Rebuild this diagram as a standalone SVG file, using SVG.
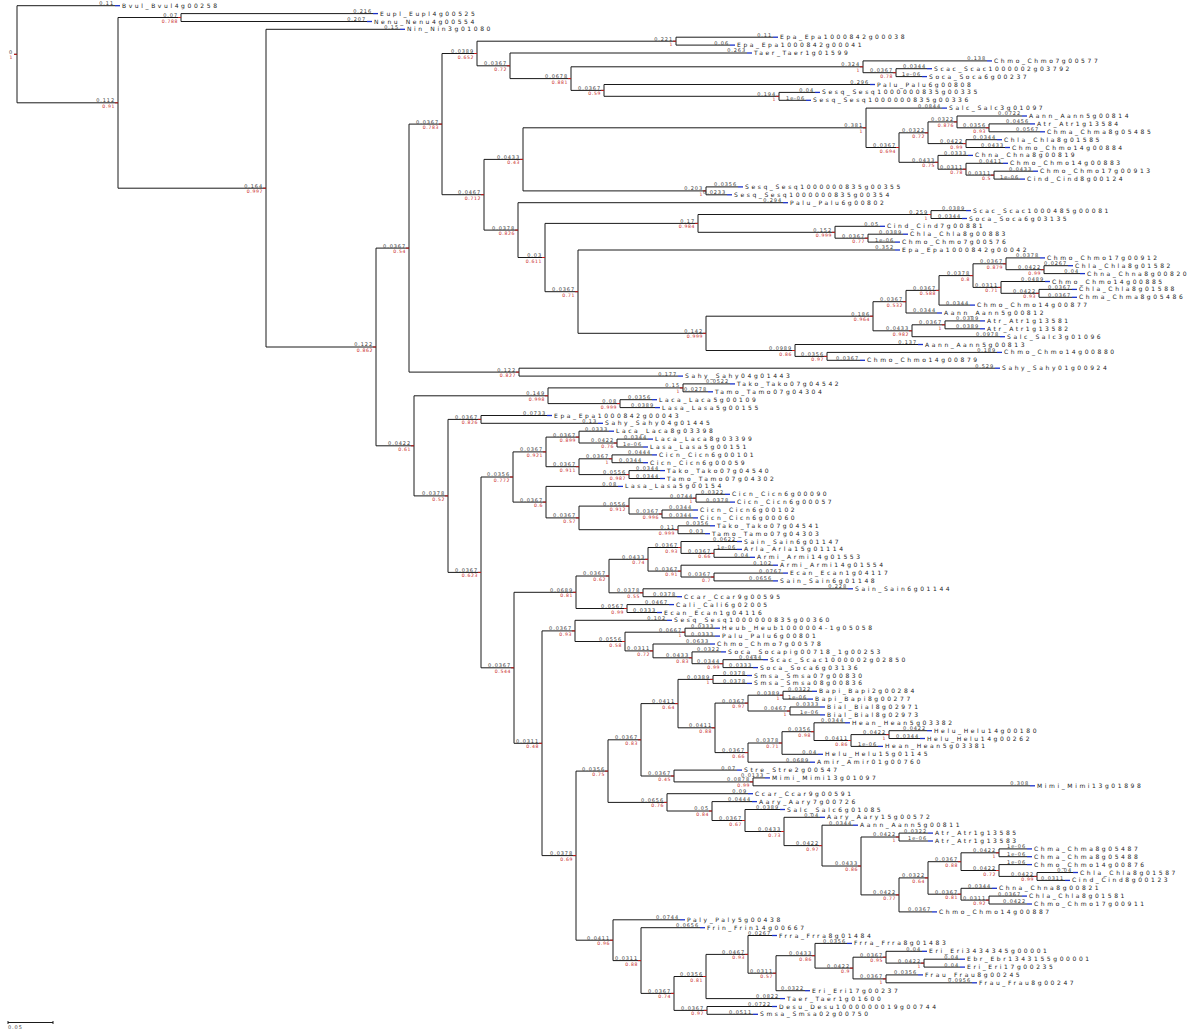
<svg xmlns="http://www.w3.org/2000/svg" width="1200" height="1032" viewBox="0 0 1200 1032">
<style>
.b{fill:none;stroke:#1a1a1a;stroke-width:1}
.tk{fill:none;stroke:#c81e1e;stroke-width:1}
.mk{fill:none;stroke:#1830c8;stroke-width:1.3}
text{font-family:"DejaVu Sans","Liberation Sans",sans-serif}
.l{font-size:5px;fill:#3a3a3a;text-anchor:end;letter-spacing:0.9px}
.s{font-size:4.6px;fill:#c81e1e;text-anchor:end;letter-spacing:0.6px}
.n{font-size:6px;fill:#1a1a1a;letter-spacing:2.6px}
</style>
<rect width="1200" height="1032" fill="#fff"/>
<g id="connectors" class="b">
<path d="M14 54.3H17M17 5.7V102.8"/>
<path d="M17 102.8H118M118 17.5V188.2"/>
<path d="M118 17.5H181M181 13.6V21.5"/>
<path d="M118 188.2H266M266 29.3V347"/>
<path d="M266 347H376M376 248.1V445.8"/>
<path d="M376 248.1H409M409 124.1V372.1"/>
<path d="M376 445.8H414M414 395.8V495.9"/>
<path d="M409 124.1H442M442 53.5V194.7"/>
<path d="M409 372.1H519M519 368.2V376.1"/>
<path d="M442 53.5H477M477 41.2V65.8"/>
<path d="M442 194.7H484M484 159.4V230.1"/>
<path d="M477 41.2H676M676 37.2V45.1"/>
<path d="M477 65.8H510M510 53V78.6"/>
<path d="M510 78.6H571M571 66.8V90.4"/>
<path d="M571 66.8H863M863 60.9V72.7"/>
<path d="M863 72.7H896M896 68.7V76.6"/>
<path d="M571 90.4H604M604 84.5V96.3"/>
<path d="M604 96.3H779M779 92.4V100.3"/>
<path d="M484 159.4H523M523 127.8V190.9"/>
<path d="M523 127.8H866M866 108.1V147.5"/>
<path d="M866 147.5H899M899 132.8V162.3"/>
<path d="M899 132.8H928M928 121.9V143.6"/>
<path d="M928 121.9H957M957 116V127.8"/>
<path d="M957 127.8H989M989 123.9V131.8"/>
<path d="M928 143.6H966M966 139.7V147.5"/>
<path d="M899 162.3H938M938 155.4V169.2"/>
<path d="M938 169.2H966M966 163.3V175.1"/>
<path d="M966 175.1H994M994 171.2V179.1"/>
<path d="M523 190.9H706M706 186.9V194.8"/>
<path d="M484 230.1H518M518 202.7V257.5"/>
<path d="M518 257.5H545M545 223.4V291.7"/>
<path d="M545 223.4H698M698 214.5V232.3"/>
<path d="M698 214.5H931M931 210.6V218.5"/>
<path d="M698 232.3H835M835 226.3V238.2"/>
<path d="M835 238.2H868M868 234.2V242.1"/>
<path d="M545 291.7H578M578 250V333.3"/>
<path d="M578 333.3H706M706 316.2V350.5"/>
<path d="M706 316.2H873M873 301.7V330.8"/>
<path d="M873 301.7H906M906 290.4V313"/>
<path d="M906 290.4H939M939 275.6V305.1"/>
<path d="M939 275.6H973M973 263.8V287.4"/>
<path d="M973 263.8H1006M1006 257.9V269.7"/>
<path d="M1006 269.7H1044M1044 265.7V273.6"/>
<path d="M973 287.4H1001M1001 281.5V293.3"/>
<path d="M1001 293.3H1039M1039 289.4V297.3"/>
<path d="M873 330.8H912M912 324.8V336.7"/>
<path d="M912 324.8H945M945 320.9V328.8"/>
<path d="M706 350.5H795M795 344.5V356.4"/>
<path d="M795 356.4H827M827 352.4V360.3"/>
<path d="M414 395.8H548M548 387.9V403.6"/>
<path d="M548 387.9H683M683 383.9V391.8"/>
<path d="M548 403.6H620M620 399.7V407.6"/>
<path d="M414 495.9H448M448 419.4V572.4"/>
<path d="M448 419.4H481M481 415.5V423.3"/>
<path d="M448 572.4H481M481 477V667.8"/>
<path d="M481 477H513M513 451.9V502.1"/>
<path d="M513 451.9H546M546 437.1V466.7"/>
<path d="M546 437.1H579M579 431.2V443"/>
<path d="M579 443H617M617 439.1V447"/>
<path d="M546 466.7H579M579 458.8V474.6"/>
<path d="M579 458.8H612M612 454.9V462.7"/>
<path d="M579 474.6H629M629 470.6V478.5"/>
<path d="M513 502.1H546M546 486.4V517.9"/>
<path d="M546 517.9H579M579 506.1V529.7"/>
<path d="M579 506.1H629M629 498.2V514"/>
<path d="M629 498.2H696M696 494.3V502.1"/>
<path d="M629 514H662M662 510V517.9"/>
<path d="M579 529.7H678M678 525.8V533.7"/>
<path d="M481 667.8H514M514 592.3V743.3"/>
<path d="M514 592.3H576M576 576V608.5"/>
<path d="M576 576H609M609 559.3V592.8"/>
<path d="M609 559.3H648M648 547.5V571.1"/>
<path d="M648 547.5H681M681 541.5V553.4"/>
<path d="M681 553.4H714M714 549.4V557.3"/>
<path d="M648 571.1H681M681 565.2V577"/>
<path d="M681 577H714M714 573.1V580.9"/>
<path d="M609 592.8H643M643 588.8V596.7"/>
<path d="M576 608.5H627M627 604.6V612.5"/>
<path d="M514 743.3H542M542 630.9V855.6"/>
<path d="M542 630.9H575M575 620.3V641.5"/>
<path d="M575 641.5H625M625 632.2V650.9"/>
<path d="M625 632.2H685M685 628.2V636.1"/>
<path d="M625 650.9H653M653 644V657.8"/>
<path d="M653 657.8H692M692 651.9V663.7"/>
<path d="M692 663.7H723M723 659.7V667.6"/>
<path d="M542 855.6H576M576 771.1V940.2"/>
<path d="M576 771.1H608M608 739.8V802.4"/>
<path d="M608 739.8H641M641 703.6V776"/>
<path d="M641 703.6H678M678 679.4V727.8"/>
<path d="M678 679.4H713M713 675.5V683.4"/>
<path d="M678 727.8H715M715 703.1V752.6"/>
<path d="M715 703.1H748M748 695.2V711"/>
<path d="M748 695.2H783M783 691.3V699.1"/>
<path d="M748 711H790M790 707V714.9"/>
<path d="M715 752.6H748M748 743V762.2"/>
<path d="M748 743H782M782 731.7V754.3"/>
<path d="M782 731.7H814M814 722.8V740.5"/>
<path d="M814 740.5H851M851 734.6V746.4"/>
<path d="M851 734.6H889M889 730.7V738.5"/>
<path d="M641 776H674M674 770.1V781.9"/>
<path d="M674 781.9H753M753 777.9V785.8"/>
<path d="M608 802.4H667M667 793.7V811"/>
<path d="M667 811H712M712 801.6V820.5"/>
<path d="M712 820.5H745M745 809.5V831.5"/>
<path d="M745 831.5H784M784 817.3V845.6"/>
<path d="M784 845.6H822M822 825.2V866"/>
<path d="M822 866H861M861 837V894.9"/>
<path d="M861 837H899M899 833.1V841"/>
<path d="M861 894.9H899M899 877.9V911.9"/>
<path d="M899 877.9H928M928 861.7V894.2"/>
<path d="M928 861.7H961M961 852.8V870.5"/>
<path d="M961 852.8H999M999 848.9V856.7"/>
<path d="M961 870.5H999M999 864.6V876.4"/>
<path d="M999 876.4H1037M1037 872.5V880.4"/>
<path d="M928 894.2H961M961 888.3V900.1"/>
<path d="M961 900.1H989M989 896.1V904"/>
<path d="M576 940.2H613M613 919.8V960.6"/>
<path d="M613 960.6H641M641 927.7V993.4"/>
<path d="M641 993.4H674M674 976.5V1010.4"/>
<path d="M674 976.5H706M706 954.4V998.6"/>
<path d="M706 954.4H748M748 935.5V973.2"/>
<path d="M748 973.2H776M776 955.7V990.7"/>
<path d="M776 955.7H815M815 943.4V968.1"/>
<path d="M815 968.1H853M853 957.2V978.9"/>
<path d="M853 957.2H886M886 951.3V963.1"/>
<path d="M886 963.1H924M924 959.2V967.1"/>
<path d="M853 978.9H886M886 974.9V982.8"/>
<path d="M674 1010.4H707M707 1006.5V1014.3"/>
<path d="M17 5.7H115M181 13.6H373M181 21.5H367M266 29.3H400M676 37.2H773M676 45.1H730M510 53H747M863 60.9H987M896 68.7H927M896 76.6H922M604 84.5H870M779 92.4H815M779 100.3H806"/>
<path d="M866 108.1H942M957 116H1022M989 123.9H1030M989 131.8H1040M966 139.7H997M966 147.5H1005M938 155.4H968M966 163.3H1003M994 171.2H1033M994 179.1H1020M706 186.9H738M706 194.8H727M518 202.7H783"/>
<path d="M931 210.6H966M931 218.5H962M835 226.3H880M868 234.2H903M868 242.1H895M578 250H895M1006 257.9H1040M1044 265.7H1068M1044 273.6H1080M1001 281.5H1045M1039 289.4H1072M1039 297.3H1072M939 305.1H970"/>
<path d="M906 313H937M945 320.9H980M945 328.8H980M912 336.7H1000M795 344.5H918M827 352.4H997M827 360.3H860M519 368.2H995M519 376.1H678M683 383.9H730M683 391.8H708M620 399.7H652M620 407.6H655"/>
<path d="M481 415.5H547M481 423.3H598M579 431.2H609M617 439.1H648M617 447H643M612 454.9H652M612 462.7H643M629 470.6H660M629 478.5H660M546 486.4H618M696 494.3H725M696 502.1H730M662 510H693M662 517.9H693"/>
<path d="M678 525.8H710M678 533.7H705M681 541.5H737M714 549.4H737M714 557.3H750M681 565.2H773M714 573.1H783M714 580.9H773M643 588.8H848M643 596.7H677M627 604.6H669M627 612.5H657M575 620.3H667"/>
<path d="M685 628.2H715M685 636.1H715M653 644H710M692 651.9H721M723 659.7H763M723 667.6H753M713 675.5H747M713 683.4H747M783 691.3H812M783 699.1H808M790 707H820M790 714.9H820M814 722.8H845"/>
<path d="M889 730.7H927M889 738.5H920M851 746.4H878M782 754.3H818M748 762.2H810M674 770.1H737M753 777.9H765M753 785.8H1030M667 793.7H748M712 801.6H752M745 809.5H780M784 817.3H820M822 825.2H853"/>
<path d="M899 833.1H928M899 841H928M999 848.9H1027M999 856.7H1027M999 864.6H1027M1037 872.5H1073M1037 880.4H1065M961 888.3H992M989 896.1H1022M989 904H1027M899 911.9H932M613 919.8H680M641 927.7H700"/>
<path d="M748 935.5H772M815 943.4H847M886 951.3H922M924 959.2H960M924 967.1H960M886 974.9H918M886 982.8H972M776 990.7H805M706 998.6H780M707 1006.5H772M707 1014.3H753"/>
</g>
<g id="internal-nodes">
<g id="n-root" transform="translate(17,54.3)"><path class="tk" d="M-3 0h3"/><text class="l" x="-4" y="-0.6">0</text><text class="s" x="-4" y="5">1</text></g>
<g id="n-A" transform="translate(118,102.8)"><path class="tk" d="M-3 0h3"/><text class="l" x="-3" y="-0.6">0.112</text><text class="s" x="-3" y="5">0.91</text></g>
<g id="n-B" transform="translate(181,17.5)"><path class="tk" d="M-3 0h3"/><text class="l" x="-3" y="-0.6">0.07</text><text class="s" x="-3" y="5">0.788</text></g>
<g id="n-C" transform="translate(266,188.2)"><path class="tk" d="M-3 0h3"/><text class="l" x="-3" y="-0.6">0.164</text><text class="s" x="-3" y="5">0.997</text></g>
<g id="n-D" transform="translate(376,347)"><path class="tk" d="M-3 0h3"/><text class="l" x="-3" y="-0.6">0.122</text><text class="s" x="-3" y="5">0.862</text></g>
<g id="n-E" transform="translate(409,248.1)"><path class="tk" d="M-3 0h3"/><text class="l" x="-3" y="-0.6">0.0367</text><text class="s" x="-3" y="5">0.54</text></g>
<g id="n-F" transform="translate(414,445.8)"><path class="tk" d="M-3 0h3"/><text class="l" x="-3" y="-0.6">0.0422</text><text class="s" x="-3" y="5">0.61</text></g>
<g id="n-G" transform="translate(442,124.1)"><path class="tk" d="M-3 0h3"/><text class="l" x="-3" y="-0.6">0.0367</text><text class="s" x="-3" y="5">0.783</text></g>
<g id="n-H" transform="translate(519,372.1)"><path class="tk" d="M-3 0h3"/><text class="l" x="-3" y="-0.6">0.122</text><text class="s" x="-3" y="5">0.827</text></g>
<g id="n-I" transform="translate(477,53.5)"><path class="tk" d="M-3 0h3"/><text class="l" x="-3" y="-0.6">0.0389</text><text class="s" x="-3" y="5">0.652</text></g>
<g id="n-J" transform="translate(484,194.7)"><path class="tk" d="M-3 0h3"/><text class="l" x="-3" y="-0.6">0.0467</text><text class="s" x="-3" y="5">0.712</text></g>
<g id="n-K" transform="translate(676,41.2)"><path class="tk" d="M-3 0h3"/><text class="l" x="-3" y="-0.6">0.221</text><text class="s" x="-3" y="5">1</text></g>
<g id="n-L" transform="translate(510,65.8)"><path class="tk" d="M-3 0h3"/><text class="l" x="-3" y="-0.6">0.0367</text><text class="s" x="-3" y="5">0.72</text></g>
<g id="n-M" transform="translate(571,78.6)"><path class="tk" d="M-3 0h3"/><text class="l" x="-3" y="-0.6">0.0678</text><text class="s" x="-3" y="5">0.881</text></g>
<g id="n-N" transform="translate(863,66.8)"><path class="tk" d="M-3 0h3"/><text class="l" x="-3" y="-0.6">0.324</text><text class="s" x="-3" y="5">1</text></g>
<g id="n-P" transform="translate(896,72.7)"><path class="tk" d="M-3 0h3"/><text class="l" x="-3" y="-0.6">0.0367</text><text class="s" x="-3" y="5">0.78</text></g>
<g id="n-O" transform="translate(604,90.4)"><path class="tk" d="M-3 0h3"/><text class="l" x="-3" y="-0.6">0.0367</text><text class="s" x="-3" y="5">0.59</text></g>
<g id="n-Q" transform="translate(779,96.3)"><path class="tk" d="M-3 0h3"/><text class="l" x="-3" y="-0.6">0.194</text><text class="s" x="-3" y="5">1</text></g>
<g id="n-R" transform="translate(523,159.4)"><path class="tk" d="M-3 0h3"/><text class="l" x="-3" y="-0.6">0.0433</text><text class="s" x="-3" y="5">0.43</text></g>
<g id="n-T" transform="translate(866,127.8)"><path class="tk" d="M-3 0h3"/><text class="l" x="-3" y="-0.6">0.381</text><text class="s" x="-3" y="5">1</text></g>
<g id="n-U" transform="translate(899,147.5)"><path class="tk" d="M-3 0h3"/><text class="l" x="-3" y="-0.6">0.0367</text><text class="s" x="-3" y="5">0.694</text></g>
<g id="n-V" transform="translate(928,132.8)"><path class="tk" d="M-3 0h3"/><text class="l" x="-3" y="-0.6">0.0322</text><text class="s" x="-3" y="5">0.72</text></g>
<g id="n-X" transform="translate(957,121.9)"><path class="tk" d="M-3 0h3"/><text class="l" x="-3" y="-0.6">0.0322</text><text class="s" x="-3" y="5">0.876</text></g>
<g id="n-Z" transform="translate(989,127.8)"><path class="tk" d="M-3 0h3"/><text class="l" x="-3" y="-0.6">0.0356</text><text class="s" x="-3" y="5">0.93</text></g>
<g id="n-Y" transform="translate(966,143.6)"><path class="tk" d="M-3 0h3"/><text class="l" x="-3" y="-0.6">0.0422</text><text class="s" x="-3" y="5">0.99</text></g>
<g id="n-AA" transform="translate(938,162.3)"><path class="tk" d="M-3 0h3"/><text class="l" x="-3" y="-0.6">0.0433</text><text class="s" x="-3" y="5">0.75</text></g>
<g id="n-AB" transform="translate(966,169.2)"><path class="tk" d="M-3 0h3"/><text class="l" x="-3" y="-0.6">0.0311</text><text class="s" x="-3" y="5">0.78</text></g>
<g id="n-AC" transform="translate(994,175.1)"><path class="tk" d="M-3 0h3"/><text class="l" x="-3" y="-0.6">0.0311</text><text class="s" x="-3" y="5">0.5</text></g>
<g id="n-S" transform="translate(706,190.9)"><path class="tk" d="M-3 0h3"/><text class="l" x="-3" y="-0.6">0.203</text><text class="s" x="-3" y="5">1</text></g>
<g id="n-AD" transform="translate(518,230.1)"><path class="tk" d="M-3 0h3"/><text class="l" x="-3" y="-0.6">0.0378</text><text class="s" x="-3" y="5">0.826</text></g>
<g id="n-AE" transform="translate(545,257.5)"><path class="tk" d="M-3 0h3"/><text class="l" x="-3" y="-0.6">0.03</text><text class="s" x="-3" y="5">0.611</text></g>
<g id="n-AF" transform="translate(698,223.4)"><path class="tk" d="M-3 0h3"/><text class="l" x="-3" y="-0.6">0.17</text><text class="s" x="-3" y="5">0.984</text></g>
<g id="n-AH" transform="translate(931,214.5)"><path class="tk" d="M-3 0h3"/><text class="l" x="-3" y="-0.6">0.259</text><text class="s" x="-3" y="5">1</text></g>
<g id="n-AI" transform="translate(835,232.3)"><path class="tk" d="M-3 0h3"/><text class="l" x="-3" y="-0.6">0.152</text><text class="s" x="-3" y="5">0.999</text></g>
<g id="n-AJ" transform="translate(868,238.2)"><path class="tk" d="M-3 0h3"/><text class="l" x="-3" y="-0.6">0.0367</text><text class="s" x="-3" y="5">0.77</text></g>
<g id="n-AG" transform="translate(578,291.7)"><path class="tk" d="M-3 0h3"/><text class="l" x="-3" y="-0.6">0.0367</text><text class="s" x="-3" y="5">0.71</text></g>
<g id="n-AK" transform="translate(706,333.3)"><path class="tk" d="M-3 0h3"/><text class="l" x="-3" y="-0.6">0.142</text><text class="s" x="-3" y="5">0.999</text></g>
<g id="n-AN" transform="translate(873,316.2)"><path class="tk" d="M-3 0h3"/><text class="l" x="-3" y="-0.6">0.186</text><text class="s" x="-3" y="5">0.964</text></g>
<g id="n-AO" transform="translate(906,301.7)"><path class="tk" d="M-3 0h3"/><text class="l" x="-3" y="-0.6">0.0367</text><text class="s" x="-3" y="5">0.532</text></g>
<g id="n-AR" transform="translate(939,290.4)"><path class="tk" d="M-3 0h3"/><text class="l" x="-3" y="-0.6">0.0367</text><text class="s" x="-3" y="5">0.588</text></g>
<g id="n-AS" transform="translate(973,275.6)"><path class="tk" d="M-3 0h3"/><text class="l" x="-3" y="-0.6">0.0378</text><text class="s" x="-3" y="5">0.8</text></g>
<g id="n-AT" transform="translate(1006,263.8)"><path class="tk" d="M-3 0h3"/><text class="l" x="-3" y="-0.6">0.0367</text><text class="s" x="-3" y="5">0.879</text></g>
<g id="n-AU" transform="translate(1044,269.7)"><path class="tk" d="M-3 0h3"/><text class="l" x="-3" y="-0.6">0.0422</text><text class="s" x="-3" y="5">0.99</text></g>
<g id="n-AV" transform="translate(1001,287.4)"><path class="tk" d="M-3 0h3"/><text class="l" x="-3" y="-0.6">0.0311</text><text class="s" x="-3" y="5">0.71</text></g>
<g id="n-AW" transform="translate(1039,293.3)"><path class="tk" d="M-3 0h3"/><text class="l" x="-3" y="-0.6">0.0422</text><text class="s" x="-3" y="5">0.93</text></g>
<g id="n-AP" transform="translate(912,330.8)"><path class="tk" d="M-3 0h3"/><text class="l" x="-3" y="-0.6">0.0433</text><text class="s" x="-3" y="5">0.982</text></g>
<g id="n-AQ" transform="translate(945,324.8)"><path class="tk" d="M-3 0h3"/><text class="l" x="-3" y="-0.6">0.0367</text><text class="s" x="-3" y="5">1</text></g>
<g id="n-AL" transform="translate(795,350.5)"><path class="tk" d="M-3 0h3"/><text class="l" x="-3" y="-0.6">0.0989</text><text class="s" x="-3" y="5">0.86</text></g>
<g id="n-AM" transform="translate(827,356.4)"><path class="tk" d="M-3 0h3"/><text class="l" x="-3" y="-0.6">0.0356</text><text class="s" x="-3" y="5">0.97</text></g>
<g id="n-BA" transform="translate(548,395.8)"><path class="tk" d="M-3 0h3"/><text class="l" x="-3" y="-0.6">0.149</text><text class="s" x="-3" y="5">0.998</text></g>
<g id="n-BC" transform="translate(683,387.9)"><path class="tk" d="M-3 0h3"/><text class="l" x="-3" y="-0.6">0.15</text><text class="s" x="-3" y="5">1</text></g>
<g id="n-BD" transform="translate(620,403.6)"><path class="tk" d="M-3 0h3"/><text class="l" x="-3" y="-0.6">0.08</text><text class="s" x="-3" y="5">0.999</text></g>
<g id="n-BB" transform="translate(448,495.9)"><path class="tk" d="M-3 0h3"/><text class="l" x="-3" y="-0.6">0.0378</text><text class="s" x="-3" y="5">0.52</text></g>
<g id="n-BE" transform="translate(481,419.4)"><path class="tk" d="M-3 0h3"/><text class="l" x="-3" y="-0.6">0.0367</text><text class="s" x="-3" y="5">0.826</text></g>
<g id="n-BF" transform="translate(481,572.4)"><path class="tk" d="M-3 0h3"/><text class="l" x="-3" y="-0.6">0.0367</text><text class="s" x="-3" y="5">0.623</text></g>
<g id="n-BG" transform="translate(513,477)"><path class="tk" d="M-3 0h3"/><text class="l" x="-3" y="-0.6">0.0356</text><text class="s" x="-3" y="5">0.772</text></g>
<g id="n-BI" transform="translate(546,451.9)"><path class="tk" d="M-3 0h3"/><text class="l" x="-3" y="-0.6">0.0367</text><text class="s" x="-3" y="5">0.921</text></g>
<g id="n-BP" transform="translate(579,437.1)"><path class="tk" d="M-3 0h3"/><text class="l" x="-3" y="-0.6">0.0367</text><text class="s" x="-3" y="5">0.899</text></g>
<g id="n-BQ" transform="translate(617,443)"><path class="tk" d="M-3 0h3"/><text class="l" x="-3" y="-0.6">0.0422</text><text class="s" x="-3" y="5">0.76</text></g>
<g id="n-BR" transform="translate(579,466.7)"><path class="tk" d="M-3 0h3"/><text class="l" x="-3" y="-0.6">0.0367</text><text class="s" x="-3" y="5">0.911</text></g>
<g id="n-BR1" transform="translate(612,458.8)"><path class="tk" d="M-3 0h3"/><text class="l" x="-3" y="-0.6">0.0367</text><text class="s" x="-3" y="5">1</text></g>
<g id="n-BR2" transform="translate(629,474.6)"><path class="tk" d="M-3 0h3"/><text class="l" x="-3" y="-0.6">0.0556</text><text class="s" x="-3" y="5">0.987</text></g>
<g id="n-BJ" transform="translate(546,502.1)"><path class="tk" d="M-3 0h3"/><text class="l" x="-3" y="-0.6">0.0367</text><text class="s" x="-3" y="5">0.6</text></g>
<g id="n-BK" transform="translate(579,517.9)"><path class="tk" d="M-3 0h3"/><text class="l" x="-3" y="-0.6">0.0367</text><text class="s" x="-3" y="5">0.57</text></g>
<g id="n-BL" transform="translate(629,506.1)"><path class="tk" d="M-3 0h3"/><text class="l" x="-3" y="-0.6">0.0556</text><text class="s" x="-3" y="5">0.912</text></g>
<g id="n-BM" transform="translate(696,498.2)"><path class="tk" d="M-3 0h3"/><text class="l" x="-3" y="-0.6">0.0744</text><text class="s" x="-3" y="5">1</text></g>
<g id="n-BN" transform="translate(662,514)"><path class="tk" d="M-3 0h3"/><text class="l" x="-3" y="-0.6">0.0367</text><text class="s" x="-3" y="5">0.996</text></g>
<g id="n-BO" transform="translate(678,529.7)"><path class="tk" d="M-3 0h3"/><text class="l" x="-3" y="-0.6">0.11</text><text class="s" x="-3" y="5">0.999</text></g>
<g id="n-BH" transform="translate(514,667.8)"><path class="tk" d="M-3 0h3"/><text class="l" x="-3" y="-0.6">0.0367</text><text class="s" x="-3" y="5">0.544</text></g>
<g id="n-BS" transform="translate(576,592.3)"><path class="tk" d="M-3 0h3"/><text class="l" x="-3" y="-0.6">0.0689</text><text class="s" x="-3" y="5">0.81</text></g>
<g id="n-BT" transform="translate(609,576)"><path class="tk" d="M-3 0h3"/><text class="l" x="-3" y="-0.6">0.0367</text><text class="s" x="-3" y="5">0.62</text></g>
<g id="n-BV" transform="translate(648,559.3)"><path class="tk" d="M-3 0h3"/><text class="l" x="-3" y="-0.6">0.0433</text><text class="s" x="-3" y="5">0.74</text></g>
<g id="n-BX" transform="translate(681,547.5)"><path class="tk" d="M-3 0h3"/><text class="l" x="-3" y="-0.6">0.0367</text><text class="s" x="-3" y="5">0.93</text></g>
<g id="n-BY" transform="translate(714,553.4)"><path class="tk" d="M-3 0h3"/><text class="l" x="-3" y="-0.6">0.0367</text><text class="s" x="-3" y="5">0.66</text></g>
<g id="n-BZ" transform="translate(681,571.1)"><path class="tk" d="M-3 0h3"/><text class="l" x="-3" y="-0.6">0.0367</text><text class="s" x="-3" y="5">0.91</text></g>
<g id="n-CA" transform="translate(714,577)"><path class="tk" d="M-3 0h3"/><text class="l" x="-3" y="-0.6">0.0367</text><text class="s" x="-3" y="5">0.7</text></g>
<g id="n-BW" transform="translate(643,592.8)"><path class="tk" d="M-3 0h3"/><text class="l" x="-3" y="-0.6">0.0378</text><text class="s" x="-3" y="5">0.55</text></g>
<g id="n-BU" transform="translate(627,608.5)"><path class="tk" d="M-3 0h3"/><text class="l" x="-3" y="-0.6">0.0567</text><text class="s" x="-3" y="5">0.99</text></g>
<g id="n-CB" transform="translate(542,743.3)"><path class="tk" d="M-3 0h3"/><text class="l" x="-3" y="-0.6">0.0311</text><text class="s" x="-3" y="5">0.48</text></g>
<g id="n-CC" transform="translate(575,630.9)"><path class="tk" d="M-3 0h3"/><text class="l" x="-3" y="-0.6">0.0367</text><text class="s" x="-3" y="5">0.93</text></g>
<g id="n-CE" transform="translate(625,641.5)"><path class="tk" d="M-3 0h3"/><text class="l" x="-3" y="-0.6">0.0556</text><text class="s" x="-3" y="5">0.58</text></g>
<g id="n-CF" transform="translate(685,632.2)"><path class="tk" d="M-3 0h3"/><text class="l" x="-3" y="-0.6">0.0667</text><text class="s" x="-3" y="5">1</text></g>
<g id="n-CG" transform="translate(653,650.9)"><path class="tk" d="M-3 0h3"/><text class="l" x="-3" y="-0.6">0.0311</text><text class="s" x="-3" y="5">0.72</text></g>
<g id="n-CH" transform="translate(692,657.8)"><path class="tk" d="M-3 0h3"/><text class="l" x="-3" y="-0.6">0.0433</text><text class="s" x="-3" y="5">0.83</text></g>
<g id="n-CI" transform="translate(723,663.7)"><path class="tk" d="M-3 0h3"/><text class="l" x="-3" y="-0.6">0.0344</text><text class="s" x="-3" y="5">0.99</text></g>
<g id="n-CD" transform="translate(576,855.6)"><path class="tk" d="M-3 0h3"/><text class="l" x="-3" y="-0.6">0.0378</text><text class="s" x="-3" y="5">0.69</text></g>
<g id="n-CJ" transform="translate(608,771.1)"><path class="tk" d="M-3 0h3"/><text class="l" x="-3" y="-0.6">0.0356</text><text class="s" x="-3" y="5">0.75</text></g>
<g id="n-CL" transform="translate(641,739.8)"><path class="tk" d="M-3 0h3"/><text class="l" x="-3" y="-0.6">0.0367</text><text class="s" x="-3" y="5">0.83</text></g>
<g id="n-CN" transform="translate(678,703.6)"><path class="tk" d="M-3 0h3"/><text class="l" x="-3" y="-0.6">0.0411</text><text class="s" x="-3" y="5">0.64</text></g>
<g id="n-CQ" transform="translate(713,679.4)"><path class="tk" d="M-3 0h3"/><text class="l" x="-3" y="-0.6">0.0389</text><text class="s" x="-3" y="5">1</text></g>
<g id="n-CR" transform="translate(715,727.8)"><path class="tk" d="M-3 0h3"/><text class="l" x="-3" y="-0.6">0.0411</text><text class="s" x="-3" y="5">0.88</text></g>
<g id="n-CS" transform="translate(748,703.1)"><path class="tk" d="M-3 0h3"/><text class="l" x="-3" y="-0.6">0.0367</text><text class="s" x="-3" y="5">0.97</text></g>
<g id="n-CU" transform="translate(783,695.2)"><path class="tk" d="M-3 0h3"/><text class="l" x="-3" y="-0.6">0.0389</text><text class="s" x="-3" y="5">1</text></g>
<g id="n-CV" transform="translate(790,711)"><path class="tk" d="M-3 0h3"/><text class="l" x="-3" y="-0.6">0.0467</text><text class="s" x="-3" y="5">1</text></g>
<g id="n-CT" transform="translate(748,752.6)"><path class="tk" d="M-3 0h3"/><text class="l" x="-3" y="-0.6">0.0367</text><text class="s" x="-3" y="5">0.66</text></g>
<g id="n-CW" transform="translate(782,743)"><path class="tk" d="M-3 0h3"/><text class="l" x="-3" y="-0.6">0.0378</text><text class="s" x="-3" y="5">0.71</text></g>
<g id="n-CX" transform="translate(814,731.7)"><path class="tk" d="M-3 0h3"/><text class="l" x="-3" y="-0.6">0.0356</text><text class="s" x="-3" y="5">0.98</text></g>
<g id="n-CY" transform="translate(851,740.5)"><path class="tk" d="M-3 0h3"/><text class="l" x="-3" y="-0.6">0.0411</text><text class="s" x="-3" y="5">0.86</text></g>
<g id="n-CZ" transform="translate(889,734.6)"><path class="tk" d="M-3 0h3"/><text class="l" x="-3" y="-0.6">0.0422</text><text class="s" x="-3" y="5">1</text></g>
<g id="n-CO" transform="translate(674,776)"><path class="tk" d="M-3 0h3"/><text class="l" x="-3" y="-0.6">0.0367</text><text class="s" x="-3" y="5">0.45</text></g>
<g id="n-CP" transform="translate(753,781.9)"><path class="tk" d="M-3 0h3"/><text class="l" x="-3" y="-0.6">0.0878</text><text class="s" x="-3" y="5">0.99</text></g>
<g id="n-CM" transform="translate(667,802.4)"><path class="tk" d="M-3 0h3"/><text class="l" x="-3" y="-0.6">0.0656</text><text class="s" x="-3" y="5">0.76</text></g>
<g id="n-DA" transform="translate(712,811)"><path class="tk" d="M-3 0h3"/><text class="l" x="-3" y="-0.6">0.05</text><text class="s" x="-3" y="5">0.84</text></g>
<g id="n-DB" transform="translate(745,820.5)"><path class="tk" d="M-3 0h3"/><text class="l" x="-3" y="-0.6">0.0367</text><text class="s" x="-3" y="5">0.67</text></g>
<g id="n-DC" transform="translate(784,831.5)"><path class="tk" d="M-3 0h3"/><text class="l" x="-3" y="-0.6">0.0433</text><text class="s" x="-3" y="5">0.73</text></g>
<g id="n-DD" transform="translate(822,845.6)"><path class="tk" d="M-3 0h3"/><text class="l" x="-3" y="-0.6">0.0422</text><text class="s" x="-3" y="5">0.97</text></g>
<g id="n-DE" transform="translate(861,866)"><path class="tk" d="M-3 0h3"/><text class="l" x="-3" y="-0.6">0.0433</text><text class="s" x="-3" y="5">0.86</text></g>
<g id="n-DF" transform="translate(899,837)"><path class="tk" d="M-3 0h3"/><text class="l" x="-3" y="-0.6">0.0422</text><text class="s" x="-3" y="5">1</text></g>
<g id="n-DG" transform="translate(899,894.9)"><path class="tk" d="M-3 0h3"/><text class="l" x="-3" y="-0.6">0.0422</text><text class="s" x="-3" y="5">0.77</text></g>
<g id="n-DH" transform="translate(928,877.9)"><path class="tk" d="M-3 0h3"/><text class="l" x="-3" y="-0.6">0.0322</text><text class="s" x="-3" y="5">0.64</text></g>
<g id="n-DI" transform="translate(961,861.7)"><path class="tk" d="M-3 0h3"/><text class="l" x="-3" y="-0.6">0.0367</text><text class="s" x="-3" y="5">0.88</text></g>
<g id="n-DL" transform="translate(999,852.8)"><path class="tk" d="M-3 0h3"/><text class="l" x="-3" y="-0.6">0.0422</text><text class="s" x="-3" y="5">1</text></g>
<g id="n-DM" transform="translate(999,870.5)"><path class="tk" d="M-3 0h3"/><text class="l" x="-3" y="-0.6">0.0422</text><text class="s" x="-3" y="5">0.72</text></g>
<g id="n-DN" transform="translate(1037,876.4)"><path class="tk" d="M-3 0h3"/><text class="l" x="-3" y="-0.6">0.0422</text><text class="s" x="-3" y="5">0.99</text></g>
<g id="n-DJ" transform="translate(961,894.2)"><path class="tk" d="M-3 0h3"/><text class="l" x="-3" y="-0.6">0.0367</text><text class="s" x="-3" y="5">0.81</text></g>
<g id="n-DK" transform="translate(989,900.1)"><path class="tk" d="M-3 0h3"/><text class="l" x="-3" y="-0.6">0.0311</text><text class="s" x="-3" y="5">0.92</text></g>
<g id="n-CK" transform="translate(613,940.2)"><path class="tk" d="M-3 0h3"/><text class="l" x="-3" y="-0.6">0.0411</text><text class="s" x="-3" y="5">0.96</text></g>
<g id="n-DO" transform="translate(641,960.6)"><path class="tk" d="M-3 0h3"/><text class="l" x="-3" y="-0.6">0.0311</text><text class="s" x="-3" y="5">0.88</text></g>
<g id="n-DP" transform="translate(674,993.4)"><path class="tk" d="M-3 0h3"/><text class="l" x="-3" y="-0.6">0.0367</text><text class="s" x="-3" y="5">0.74</text></g>
<g id="n-DQ" transform="translate(706,976.5)"><path class="tk" d="M-3 0h3"/><text class="l" x="-3" y="-0.6">0.0356</text><text class="s" x="-3" y="5">0.81</text></g>
<g id="n-DS" transform="translate(748,954.4)"><path class="tk" d="M-3 0h3"/><text class="l" x="-3" y="-0.6">0.0467</text><text class="s" x="-3" y="5">0.93</text></g>
<g id="n-DU" transform="translate(776,973.2)"><path class="tk" d="M-3 0h3"/><text class="l" x="-3" y="-0.6">0.0311</text><text class="s" x="-3" y="5">0.57</text></g>
<g id="n-DV" transform="translate(815,955.7)"><path class="tk" d="M-3 0h3"/><text class="l" x="-3" y="-0.6">0.0433</text><text class="s" x="-3" y="5">0.86</text></g>
<g id="n-DW" transform="translate(853,968.1)"><path class="tk" d="M-3 0h3"/><text class="l" x="-3" y="-0.6">0.0422</text><text class="s" x="-3" y="5">0.9</text></g>
<g id="n-DX" transform="translate(886,957.2)"><path class="tk" d="M-3 0h3"/><text class="l" x="-3" y="-0.6">0.0367</text><text class="s" x="-3" y="5">0.95</text></g>
<g id="n-DZ" transform="translate(924,963.1)"><path class="tk" d="M-3 0h3"/><text class="l" x="-3" y="-0.6">0.0422</text><text class="s" x="-3" y="5">1</text></g>
<g id="n-DY" transform="translate(886,978.9)"><path class="tk" d="M-3 0h3"/><text class="l" x="-3" y="-0.6">0.0367</text><text class="s" x="-3" y="5">1</text></g>
<g id="n-DR" transform="translate(707,1010.4)"><path class="tk" d="M-3 0h3"/><text class="l" x="-3" y="-0.6">0.0367</text><text class="s" x="-3" y="5">0.97</text></g>
</g>
<g id="leaves">
<g id="leaf-Bvul_Bvul4g00258" transform="translate(115,5.7)"><path class="mk" d="M0 0h5"/><text class="l" x="-1" y="-0.6">0.11</text><text class="n" x="7" y="2">Bvul_Bvul4g00258</text></g>
<g id="leaf-Eupl_Eupl4g00525" transform="translate(373,13.6)"><path class="mk" d="M0 0h5"/><text class="l" x="-1" y="-0.6">0.216</text><text class="n" x="7" y="2">Eupl_Eupl4g00525</text></g>
<g id="leaf-Nenu_Nenu4g00554" transform="translate(367,21.5)"><path class="mk" d="M0 0h5"/><text class="l" x="-1" y="-0.6">0.207</text><text class="n" x="7" y="2">Nenu_Nenu4g00554</text></g>
<g id="leaf-Nin_Nin3g01080" transform="translate(400,29.3)"><path class="mk" d="M0 0h5"/><text class="l" x="-1" y="-0.6">0.15</text><text class="n" x="7" y="2">Nin_Nin3g01080</text></g>
<g id="leaf-Epa_Epa1000842g00038" transform="translate(773,37.2)"><path class="mk" d="M0 0h5"/><text class="l" x="-1" y="-0.6">0.11</text><text class="n" x="7" y="2">Epa_Epa1000842g00038</text></g>
<g id="leaf-Epa_Epa1000842g00041" transform="translate(730,45.1)"><path class="mk" d="M0 0h5"/><text class="l" x="-1" y="-0.6">0.06</text><text class="n" x="7" y="2">Epa_Epa1000842g00041</text></g>
<g id="leaf-Taer_Taer1g01599" transform="translate(747,53)"><path class="mk" d="M0 0h5"/><text class="l" x="-1" y="-0.6">0.263</text><text class="n" x="7" y="2">Taer_Taer1g01599</text></g>
<g id="leaf-Chmo_Chmo7g00577" transform="translate(987,60.9)"><path class="mk" d="M0 0h5"/><text class="l" x="-1" y="-0.6">0.138</text><text class="n" x="7" y="2">Chmo_Chmo7g00577</text></g>
<g id="leaf-Scac_Scac1000002g03792" transform="translate(927,68.7)"><path class="mk" d="M0 0h5"/><text class="l" x="-1" y="-0.6">0.0344</text><text class="n" x="7" y="2">Scac_Scac1000002g03792</text></g>
<g id="leaf-Soca_Soca6g00237" transform="translate(922,76.6)"><path class="mk" d="M0 0h5"/><text class="l" x="-1" y="-0.6">1e-06</text><text class="n" x="7" y="2">Soca_Soca6g00237</text></g>
<g id="leaf-Palu_Palu6g00808" transform="translate(870,84.5)"><path class="mk" d="M0 0h5"/><text class="l" x="-1" y="-0.6">0.296</text><text class="n" x="7" y="2">Palu_Palu6g00808</text></g>
<g id="leaf-Sesq_Sesq1000000835g00335" transform="translate(815,92.4)"><path class="mk" d="M0 0h5"/><text class="l" x="-1" y="-0.6">0.04</text><text class="n" x="7" y="2">Sesq_Sesq1000000835g00335</text></g>
<g id="leaf-Sesq_Sesq1000000835g00336" transform="translate(806,100.3)"><path class="mk" d="M0 0h5"/><text class="l" x="-1" y="-0.6">1e-06</text><text class="n" x="7" y="2">Sesq_Sesq1000000835g00336</text></g>
<g id="leaf-Salc_Salc3g01097" transform="translate(942,108.1)"><path class="mk" d="M0 0h5"/><text class="l" x="-1" y="-0.6">0.0844</text><text class="n" x="7" y="2">Salc_Salc3g01097</text></g>
<g id="leaf-Aann_Aann5g00814" transform="translate(1022,116)"><path class="mk" d="M0 0h5"/><text class="l" x="-1" y="-0.6">0.0722</text><text class="n" x="7" y="2">Aann_Aann5g00814</text></g>
<g id="leaf-Atr_Atr1g13584" transform="translate(1030,123.9)"><path class="mk" d="M0 0h5"/><text class="l" x="-1" y="-0.6">0.0456</text><text class="n" x="7" y="2">Atr_Atr1g13584</text></g>
<g id="leaf-Chma_Chma8g05485" transform="translate(1040,131.8)"><path class="mk" d="M0 0h5"/><text class="l" x="-1" y="-0.6">0.0567</text><text class="n" x="7" y="2">Chma_Chma8g05485</text></g>
<g id="leaf-Chla_Chla8g01585" transform="translate(997,139.7)"><path class="mk" d="M0 0h5"/><text class="l" x="-1" y="-0.6">0.0344</text><text class="n" x="7" y="2">Chla_Chla8g01585</text></g>
<g id="leaf-Chmo_Chmo14g00884" transform="translate(1005,147.5)"><path class="mk" d="M0 0h5"/><text class="l" x="-1" y="-0.6">0.0433</text><text class="n" x="7" y="2">Chmo_Chmo14g00884</text></g>
<g id="leaf-Chna_Chna8g00819" transform="translate(968,155.4)"><path class="mk" d="M0 0h5"/><text class="l" x="-1" y="-0.6">0.0333</text><text class="n" x="7" y="2">Chna_Chna8g00819</text></g>
<g id="leaf-Chmo_Chmo14g00883" transform="translate(1003,163.3)"><path class="mk" d="M0 0h5"/><text class="l" x="-1" y="-0.6">0.0411</text><text class="n" x="7" y="2">Chmo_Chmo14g00883</text></g>
<g id="leaf-Chmo_Chmo17g00913" transform="translate(1033,171.2)"><path class="mk" d="M0 0h5"/><text class="l" x="-1" y="-0.6">0.0433</text><text class="n" x="7" y="2">Chmo_Chmo17g00913</text></g>
<g id="leaf-Cind_Cind8g00124" transform="translate(1020,179.1)"><path class="mk" d="M0 0h5"/><text class="l" x="-1" y="-0.6">1e-06</text><text class="n" x="7" y="2">Cind_Cind8g00124</text></g>
<g id="leaf-Sesq_Sesq1000000835g00355" transform="translate(738,186.9)"><path class="mk" d="M0 0h5"/><text class="l" x="-1" y="-0.6">0.0356</text><text class="n" x="7" y="2">Sesq_Sesq1000000835g00355</text></g>
<g id="leaf-Sesq_Sesq1000000835g00354" transform="translate(727,194.8)"><path class="mk" d="M0 0h5"/><text class="l" x="-1" y="-0.6">0.0233</text><text class="n" x="7" y="2">Sesq_Sesq1000000835g00354</text></g>
<g id="leaf-Palu_Palu6g00802" transform="translate(783,202.7)"><path class="mk" d="M0 0h5"/><text class="l" x="-1" y="-0.6">0.294</text><text class="n" x="7" y="2">Palu_Palu6g00802</text></g>
<g id="leaf-Scac_Scac1000485g00081" transform="translate(966,210.6)"><path class="mk" d="M0 0h5"/><text class="l" x="-1" y="-0.6">0.0389</text><text class="n" x="7" y="2">Scac_Scac1000485g00081</text></g>
<g id="leaf-Soca_Soca6g03135" transform="translate(962,218.5)"><path class="mk" d="M0 0h5"/><text class="l" x="-1" y="-0.6">0.0344</text><text class="n" x="7" y="2">Soca_Soca6g03135</text></g>
<g id="leaf-Cind_Cind7g00881" transform="translate(880,226.3)"><path class="mk" d="M0 0h5"/><text class="l" x="-1" y="-0.6">0.05</text><text class="n" x="7" y="2">Cind_Cind7g00881</text></g>
<g id="leaf-Chla_Chla8g00883" transform="translate(903,234.2)"><path class="mk" d="M0 0h5"/><text class="l" x="-1" y="-0.6">0.0389</text><text class="n" x="7" y="2">Chla_Chla8g00883</text></g>
<g id="leaf-Chmo_Chmo7g00576" transform="translate(895,242.1)"><path class="mk" d="M0 0h5"/><text class="l" x="-1" y="-0.6">1e-06</text><text class="n" x="7" y="2">Chmo_Chmo7g00576</text></g>
<g id="leaf-Epa_Epa1000842g00042" transform="translate(895,250)"><path class="mk" d="M0 0h5"/><text class="l" x="-1" y="-0.6">0.352</text><text class="n" x="7" y="2">Epa_Epa1000842g00042</text></g>
<g id="leaf-Chmo_Chmo17g00912" transform="translate(1040,257.9)"><path class="mk" d="M0 0h5"/><text class="l" x="-1" y="-0.6">0.0378</text><text class="n" x="7" y="2">Chmo_Chmo17g00912</text></g>
<g id="leaf-Chla_Chla8g01582" transform="translate(1068,265.7)"><path class="mk" d="M0 0h5"/><text class="l" x="-1" y="-0.6">0.0267</text><text class="n" x="7" y="2">Chla_Chla8g01582</text></g>
<g id="leaf-Chna_Chna8g00820" transform="translate(1080,273.6)"><path class="mk" d="M0 0h5"/><text class="l" x="-1" y="-0.6">0.04</text><text class="n" x="7" y="2">Chna_Chna8g00820</text></g>
<g id="leaf-Chmo_Chmo14g00885" transform="translate(1045,281.5)"><path class="mk" d="M0 0h5"/><text class="l" x="-1" y="-0.6">0.0489</text><text class="n" x="7" y="2">Chmo_Chmo14g00885</text></g>
<g id="leaf-Chla_Chla8g01588" transform="translate(1072,289.4)"><path class="mk" d="M0 0h5"/><text class="l" x="-1" y="-0.6">0.0367</text><text class="n" x="7" y="2">Chla_Chla8g01588</text></g>
<g id="leaf-Chma_Chma8g05486" transform="translate(1072,297.3)"><path class="mk" d="M0 0h5"/><text class="l" x="-1" y="-0.6">0.0367</text><text class="n" x="7" y="2">Chma_Chma8g05486</text></g>
<g id="leaf-Chmo_Chmo14g00877" transform="translate(970,305.1)"><path class="mk" d="M0 0h5"/><text class="l" x="-1" y="-0.6">0.0344</text><text class="n" x="7" y="2">Chmo_Chmo14g00877</text></g>
<g id="leaf-Aann_Aann5g00812" transform="translate(937,313)"><path class="mk" d="M0 0h5"/><text class="l" x="-1" y="-0.6">0.0344</text><text class="n" x="7" y="2">Aann_Aann5g00812</text></g>
<g id="leaf-Atr_Atr1g13581" transform="translate(980,320.9)"><path class="mk" d="M0 0h5"/><text class="l" x="-1" y="-0.6">0.0389</text><text class="n" x="7" y="2">Atr_Atr1g13581</text></g>
<g id="leaf-Atr_Atr1g13582" transform="translate(980,328.8)"><path class="mk" d="M0 0h5"/><text class="l" x="-1" y="-0.6">0.0389</text><text class="n" x="7" y="2">Atr_Atr1g13582</text></g>
<g id="leaf-Salc_Salc3g01096" transform="translate(1000,336.7)"><path class="mk" d="M0 0h5"/><text class="l" x="-1" y="-0.6">0.0978</text><text class="n" x="7" y="2">Salc_Salc3g01096</text></g>
<g id="leaf-Aann_Aann5g00813" transform="translate(918,344.5)"><path class="mk" d="M0 0h5"/><text class="l" x="-1" y="-0.6">0.137</text><text class="n" x="7" y="2">Aann_Aann5g00813</text></g>
<g id="leaf-Chmo_Chmo14g00880" transform="translate(997,352.4)"><path class="mk" d="M0 0h5"/><text class="l" x="-1" y="-0.6">0.189</text><text class="n" x="7" y="2">Chmo_Chmo14g00880</text></g>
<g id="leaf-Chmo_Chmo14g00879" transform="translate(860,360.3)"><path class="mk" d="M0 0h5"/><text class="l" x="-1" y="-0.6">0.0367</text><text class="n" x="7" y="2">Chmo_Chmo14g00879</text></g>
<g id="leaf-Sahy_Sahy01g00924" transform="translate(995,368.2)"><path class="mk" d="M0 0h5"/><text class="l" x="-1" y="-0.6">0.529</text><text class="n" x="7" y="2">Sahy_Sahy01g00924</text></g>
<g id="leaf-Sahy_Sahy04g01443" transform="translate(678,376.1)"><path class="mk" d="M0 0h5"/><text class="l" x="-1" y="-0.6">0.177</text><text class="n" x="7" y="2">Sahy_Sahy04g01443</text></g>
<g id="leaf-Tako_Tako07g04542" transform="translate(730,383.9)"><path class="mk" d="M0 0h5"/><text class="l" x="-1" y="-0.6">0.0522</text><text class="n" x="7" y="2">Tako_Tako07g04542</text></g>
<g id="leaf-Tamo_Tamo07g04304" transform="translate(708,391.8)"><path class="mk" d="M0 0h5"/><text class="l" x="-1" y="-0.6">0.0278</text><text class="n" x="7" y="2">Tamo_Tamo07g04304</text></g>
<g id="leaf-Laca_Laca5g00109" transform="translate(652,399.7)"><path class="mk" d="M0 0h5"/><text class="l" x="-1" y="-0.6">0.0356</text><text class="n" x="7" y="2">Laca_Laca5g00109</text></g>
<g id="leaf-Lasa_Lasa5g00155" transform="translate(655,407.6)"><path class="mk" d="M0 0h5"/><text class="l" x="-1" y="-0.6">0.0389</text><text class="n" x="7" y="2">Lasa_Lasa5g00155</text></g>
<g id="leaf-Epa_Epa1000842g00043" transform="translate(547,415.5)"><path class="mk" d="M0 0h5"/><text class="l" x="-1" y="-0.6">0.0733</text><text class="n" x="7" y="2">Epa_Epa1000842g00043</text></g>
<g id="leaf-Sahy_Sahy04g01445" transform="translate(598,423.3)"><path class="mk" d="M0 0h5"/><text class="l" x="-1" y="-0.6">0.13</text><text class="n" x="7" y="2">Sahy_Sahy04g01445</text></g>
<g id="leaf-Laca_Laca8g03398" transform="translate(609,431.2)"><path class="mk" d="M0 0h5"/><text class="l" x="-1" y="-0.6">0.0333</text><text class="n" x="7" y="2">Laca_Laca8g03398</text></g>
<g id="leaf-Laca_Laca8g03399" transform="translate(648,439.1)"><path class="mk" d="M0 0h5"/><text class="l" x="-1" y="-0.6">0.0344</text><text class="n" x="7" y="2">Laca_Laca8g03399</text></g>
<g id="leaf-Lasa_Lasa5g00151" transform="translate(643,447)"><path class="mk" d="M0 0h5"/><text class="l" x="-1" y="-0.6">1e-06</text><text class="n" x="7" y="2">Lasa_Lasa5g00151</text></g>
<g id="leaf-Cicn_Cicn6g00101" transform="translate(652,454.9)"><path class="mk" d="M0 0h5"/><text class="l" x="-1" y="-0.6">0.0444</text><text class="n" x="7" y="2">Cicn_Cicn6g00101</text></g>
<g id="leaf-Cicn_Cicn6g00059" transform="translate(643,462.7)"><path class="mk" d="M0 0h5"/><text class="l" x="-1" y="-0.6">0.0344</text><text class="n" x="7" y="2">Cicn_Cicn6g00059</text></g>
<g id="leaf-Tako_Tako07g04540" transform="translate(660,470.6)"><path class="mk" d="M0 0h5"/><text class="l" x="-1" y="-0.6">0.0344</text><text class="n" x="7" y="2">Tako_Tako07g04540</text></g>
<g id="leaf-Tamo_Tamo07g04302" transform="translate(660,478.5)"><path class="mk" d="M0 0h5"/><text class="l" x="-1" y="-0.6">0.0344</text><text class="n" x="7" y="2">Tamo_Tamo07g04302</text></g>
<g id="leaf-Lasa_Lasa5g00154" transform="translate(618,486.4)"><path class="mk" d="M0 0h5"/><text class="l" x="-1" y="-0.6">0.08</text><text class="n" x="7" y="2">Lasa_Lasa5g00154</text></g>
<g id="leaf-Cicn_Cicn6g00090" transform="translate(725,494.3)"><path class="mk" d="M0 0h5"/><text class="l" x="-1" y="-0.6">0.0322</text><text class="n" x="7" y="2">Cicn_Cicn6g00090</text></g>
<g id="leaf-Cicn_Cicn6g00057" transform="translate(730,502.1)"><path class="mk" d="M0 0h5"/><text class="l" x="-1" y="-0.6">0.0378</text><text class="n" x="7" y="2">Cicn_Cicn6g00057</text></g>
<g id="leaf-Cicn_Cicn6g00102" transform="translate(693,510)"><path class="mk" d="M0 0h5"/><text class="l" x="-1" y="-0.6">0.0344</text><text class="n" x="7" y="2">Cicn_Cicn6g00102</text></g>
<g id="leaf-Cicn_Cicn6g00060" transform="translate(693,517.9)"><path class="mk" d="M0 0h5"/><text class="l" x="-1" y="-0.6">0.0344</text><text class="n" x="7" y="2">Cicn_Cicn6g00060</text></g>
<g id="leaf-Tako_Tako07g04541" transform="translate(710,525.8)"><path class="mk" d="M0 0h5"/><text class="l" x="-1" y="-0.6">0.0356</text><text class="n" x="7" y="2">Tako_Tako07g04541</text></g>
<g id="leaf-Tamo_Tamo07g04303" transform="translate(705,533.7)"><path class="mk" d="M0 0h5"/><text class="l" x="-1" y="-0.6">0.03</text><text class="n" x="7" y="2">Tamo_Tamo07g04303</text></g>
<g id="leaf-Sain_Sain6g01147" transform="translate(737,541.5)"><path class="mk" d="M0 0h5"/><text class="l" x="-1" y="-0.6">0.0622</text><text class="n" x="7" y="2">Sain_Sain6g01147</text></g>
<g id="leaf-Arla_Arla15g01114" transform="translate(737,549.4)"><path class="mk" d="M0 0h5"/><text class="l" x="-1" y="-0.6">1e-06</text><text class="n" x="7" y="2">Arla_Arla15g01114</text></g>
<g id="leaf-Armi_Armi14g01553" transform="translate(750,557.3)"><path class="mk" d="M0 0h5"/><text class="l" x="-1" y="-0.6">0.04</text><text class="n" x="7" y="2">Armi_Armi14g01553</text></g>
<g id="leaf-Armi_Armi14g01554" transform="translate(773,565.2)"><path class="mk" d="M0 0h5"/><text class="l" x="-1" y="-0.6">0.102</text><text class="n" x="7" y="2">Armi_Armi14g01554</text></g>
<g id="leaf-Ecan_Ecan1g04117" transform="translate(783,573.1)"><path class="mk" d="M0 0h5"/><text class="l" x="-1" y="-0.6">0.0767</text><text class="n" x="7" y="2">Ecan_Ecan1g04117</text></g>
<g id="leaf-Sain_Sain6g01148" transform="translate(773,580.9)"><path class="mk" d="M0 0h5"/><text class="l" x="-1" y="-0.6">0.0656</text><text class="n" x="7" y="2">Sain_Sain6g01148</text></g>
<g id="leaf-Sain_Sain6g01144" transform="translate(848,588.8)"><path class="mk" d="M0 0h5"/><text class="l" x="-1" y="-0.6">0.228</text><text class="n" x="7" y="2">Sain_Sain6g01144</text></g>
<g id="leaf-Ccar_Ccar9g00595" transform="translate(677,596.7)"><path class="mk" d="M0 0h5"/><text class="l" x="-1" y="-0.6">0.0378</text><text class="n" x="7" y="2">Ccar_Ccar9g00595</text></g>
<g id="leaf-Cali_Cali6g02005" transform="translate(669,604.6)"><path class="mk" d="M0 0h5"/><text class="l" x="-1" y="-0.6">0.0467</text><text class="n" x="7" y="2">Cali_Cali6g02005</text></g>
<g id="leaf-Ecan_Ecan1g04116" transform="translate(657,612.5)"><path class="mk" d="M0 0h5"/><text class="l" x="-1" y="-0.6">0.0333</text><text class="n" x="7" y="2">Ecan_Ecan1g04116</text></g>
<g id="leaf-Sesq_Sesq1000000835g00360" transform="translate(667,620.3)"><path class="mk" d="M0 0h5"/><text class="l" x="-1" y="-0.6">0.102</text><text class="n" x="7" y="2">Sesq_Sesq1000000835g00360</text></g>
<g id="leaf-Heub_Heub1000004-1g05058" transform="translate(715,628.2)"><path class="mk" d="M0 0h5"/><text class="l" x="-1" y="-0.6">0.0333</text><text class="n" x="7" y="2">Heub_Heub1000004-1g05058</text></g>
<g id="leaf-Palu_Palu6g00801" transform="translate(715,636.1)"><path class="mk" d="M0 0h5"/><text class="l" x="-1" y="-0.6">0.0333</text><text class="n" x="7" y="2">Palu_Palu6g00801</text></g>
<g id="leaf-Chmo_Chmo7g00578" transform="translate(710,644)"><path class="mk" d="M0 0h5"/><text class="l" x="-1" y="-0.6">0.0633</text><text class="n" x="7" y="2">Chmo_Chmo7g00578</text></g>
<g id="leaf-Soca_Socapig00718_1g00253" transform="translate(721,651.9)"><path class="mk" d="M0 0h5"/><text class="l" x="-1" y="-0.6">0.0322</text><text class="n" x="7" y="2">Soca_Socapig00718_1g00253</text></g>
<g id="leaf-Scac_Scac1000002g02850" transform="translate(763,659.7)"><path class="mk" d="M0 0h5"/><text class="l" x="-1" y="-0.6">0.0444</text><text class="n" x="7" y="2">Scac_Scac1000002g02850</text></g>
<g id="leaf-Soca_Soca6g03136" transform="translate(753,667.6)"><path class="mk" d="M0 0h5"/><text class="l" x="-1" y="-0.6">0.0333</text><text class="n" x="7" y="2">Soca_Soca6g03136</text></g>
<g id="leaf-Smsa_Smsa07g00830" transform="translate(747,675.5)"><path class="mk" d="M0 0h5"/><text class="l" x="-1" y="-0.6">0.0378</text><text class="n" x="7" y="2">Smsa_Smsa07g00830</text></g>
<g id="leaf-Smsa_Smsa08g00836" transform="translate(747,683.4)"><path class="mk" d="M0 0h5"/><text class="l" x="-1" y="-0.6">0.0378</text><text class="n" x="7" y="2">Smsa_Smsa08g00836</text></g>
<g id="leaf-Bapi_Bapi2g00284" transform="translate(812,691.3)"><path class="mk" d="M0 0h5"/><text class="l" x="-1" y="-0.6">0.0322</text><text class="n" x="7" y="2">Bapi_Bapi2g00284</text></g>
<g id="leaf-Bapi_Bapi8g00277" transform="translate(808,699.1)"><path class="mk" d="M0 0h5"/><text class="l" x="-1" y="-0.6">1e-06</text><text class="n" x="7" y="2">Bapi_Bapi8g00277</text></g>
<g id="leaf-Bial_Bial8g02971" transform="translate(820,707)"><path class="mk" d="M0 0h5"/><text class="l" x="-1" y="-0.6">0.0333</text><text class="n" x="7" y="2">Bial_Bial8g02971</text></g>
<g id="leaf-Bial_Bial8g02973" transform="translate(820,714.9)"><path class="mk" d="M0 0h5"/><text class="l" x="-1" y="-0.6">1e-06</text><text class="n" x="7" y="2">Bial_Bial8g02973</text></g>
<g id="leaf-Hean_Hean5g03382" transform="translate(845,722.8)"><path class="mk" d="M0 0h5"/><text class="l" x="-1" y="-0.6">0.0344</text><text class="n" x="7" y="2">Hean_Hean5g03382</text></g>
<g id="leaf-Helu_Helu14g00180" transform="translate(927,730.7)"><path class="mk" d="M0 0h5"/><text class="l" x="-1" y="-0.6">0.0422</text><text class="n" x="7" y="2">Helu_Helu14g00180</text></g>
<g id="leaf-Helu_Helu14g00262" transform="translate(920,738.5)"><path class="mk" d="M0 0h5"/><text class="l" x="-1" y="-0.6">0.0344</text><text class="n" x="7" y="2">Helu_Helu14g00262</text></g>
<g id="leaf-Hean_Hean5g03381" transform="translate(878,746.4)"><path class="mk" d="M0 0h5"/><text class="l" x="-1" y="-0.6">1e-06</text><text class="n" x="7" y="2">Hean_Hean5g03381</text></g>
<g id="leaf-Helu_Helu15g01145" transform="translate(818,754.3)"><path class="mk" d="M0 0h5"/><text class="l" x="-1" y="-0.6">0.04</text><text class="n" x="7" y="2">Helu_Helu15g01145</text></g>
<g id="leaf-Amir_Amir01g00760" transform="translate(810,762.2)"><path class="mk" d="M0 0h5"/><text class="l" x="-1" y="-0.6">0.0689</text><text class="n" x="7" y="2">Amir_Amir01g00760</text></g>
<g id="leaf-Stre_Stre2g00547" transform="translate(737,770.1)"><path class="mk" d="M0 0h5"/><text class="l" x="-1" y="-0.6">0.07</text><text class="n" x="7" y="2">Stre_Stre2g00547</text></g>
<g id="leaf-Mimi_Mimi13g01097" transform="translate(765,777.9)"><path class="mk" d="M0 0h5"/><text class="l" x="-1" y="-0.6">0.0133</text><text class="n" x="7" y="2">Mimi_Mimi13g01097</text></g>
<g id="leaf-Mimi_Mimi13g01898" transform="translate(1030,785.8)"><path class="mk" d="M0 0h5"/><text class="l" x="-1" y="-0.6">0.308</text><text class="n" x="7" y="2">Mimi_Mimi13g01898</text></g>
<g id="leaf-Ccar_Ccar9g00591" transform="translate(748,793.7)"><path class="mk" d="M0 0h5"/><text class="l" x="-1" y="-0.6">0.09</text><text class="n" x="7" y="2">Ccar_Ccar9g00591</text></g>
<g id="leaf-Aary_Aary7g00726" transform="translate(752,801.6)"><path class="mk" d="M0 0h5"/><text class="l" x="-1" y="-0.6">0.0444</text><text class="n" x="7" y="2">Aary_Aary7g00726</text></g>
<g id="leaf-Salc_Salc6g01085" transform="translate(780,809.5)"><path class="mk" d="M0 0h5"/><text class="l" x="-1" y="-0.6">0.0389</text><text class="n" x="7" y="2">Salc_Salc6g01085</text></g>
<g id="leaf-Aary_Aary15g00572" transform="translate(820,817.3)"><path class="mk" d="M0 0h5"/><text class="l" x="-1" y="-0.6">0.04</text><text class="n" x="7" y="2">Aary_Aary15g00572</text></g>
<g id="leaf-Aann_Aann5g00811" transform="translate(853,825.2)"><path class="mk" d="M0 0h5"/><text class="l" x="-1" y="-0.6">0.0344</text><text class="n" x="7" y="2">Aann_Aann5g00811</text></g>
<g id="leaf-Atr_Atr1g13585" transform="translate(928,833.1)"><path class="mk" d="M0 0h5"/><text class="l" x="-1" y="-0.6">0.0322</text><text class="n" x="7" y="2">Atr_Atr1g13585</text></g>
<g id="leaf-Atr_Atr1g13583" transform="translate(928,841)"><path class="mk" d="M0 0h5"/><text class="l" x="-1" y="-0.6">1e-06</text><text class="n" x="7" y="2">Atr_Atr1g13583</text></g>
<g id="leaf-Chma_Chma8g05487" transform="translate(1027,848.9)"><path class="mk" d="M0 0h5"/><text class="l" x="-1" y="-0.6">1e-06</text><text class="n" x="7" y="2">Chma_Chma8g05487</text></g>
<g id="leaf-Chma_Chma8g05488" transform="translate(1027,856.7)"><path class="mk" d="M0 0h5"/><text class="l" x="-1" y="-0.6">1e-06</text><text class="n" x="7" y="2">Chma_Chma8g05488</text></g>
<g id="leaf-Chmo_Chmo14g00876" transform="translate(1027,864.6)"><path class="mk" d="M0 0h5"/><text class="l" x="-1" y="-0.6">1e-06</text><text class="n" x="7" y="2">Chmo_Chmo14g00876</text></g>
<g id="leaf-Chla_Chla8g01587" transform="translate(1073,872.5)"><path class="mk" d="M0 0h5"/><text class="l" x="-1" y="-0.6">0.04</text><text class="n" x="7" y="2">Chla_Chla8g01587</text></g>
<g id="leaf-Cind_Cind8g00123" transform="translate(1065,880.4)"><path class="mk" d="M0 0h5"/><text class="l" x="-1" y="-0.6">0.0311</text><text class="n" x="7" y="2">Cind_Cind8g00123</text></g>
<g id="leaf-Chna_Chna8g00821" transform="translate(992,888.3)"><path class="mk" d="M0 0h5"/><text class="l" x="-1" y="-0.6">0.0344</text><text class="n" x="7" y="2">Chna_Chna8g00821</text></g>
<g id="leaf-Chla_Chla8g01581" transform="translate(1022,896.1)"><path class="mk" d="M0 0h5"/><text class="l" x="-1" y="-0.6">0.0367</text><text class="n" x="7" y="2">Chla_Chla8g01581</text></g>
<g id="leaf-Chmo_Chmo17g00911" transform="translate(1027,904)"><path class="mk" d="M0 0h5"/><text class="l" x="-1" y="-0.6">0.0422</text><text class="n" x="7" y="2">Chmo_Chmo17g00911</text></g>
<g id="leaf-Chmo_Chmo14g00887" transform="translate(932,911.9)"><path class="mk" d="M0 0h5"/><text class="l" x="-1" y="-0.6">0.0367</text><text class="n" x="7" y="2">Chmo_Chmo14g00887</text></g>
<g id="leaf-Paly_Paly5g00438" transform="translate(680,919.8)"><path class="mk" d="M0 0h5"/><text class="l" x="-1" y="-0.6">0.0744</text><text class="n" x="7" y="2">Paly_Paly5g00438</text></g>
<g id="leaf-Frin_Frin14g00667" transform="translate(700,927.7)"><path class="mk" d="M0 0h5"/><text class="l" x="-1" y="-0.6">0.0656</text><text class="n" x="7" y="2">Frin_Frin14g00667</text></g>
<g id="leaf-Frra_Frra8g01484" transform="translate(772,935.5)"><path class="mk" d="M0 0h5"/><text class="l" x="-1" y="-0.6">0.0267</text><text class="n" x="7" y="2">Frra_Frra8g01484</text></g>
<g id="leaf-Frra_Frra8g01483" transform="translate(847,943.4)"><path class="mk" d="M0 0h5"/><text class="l" x="-1" y="-0.6">0.0356</text><text class="n" x="7" y="2">Frra_Frra8g01483</text></g>
<g id="leaf-Eri_Eri3434345g00001" transform="translate(922,951.3)"><path class="mk" d="M0 0h5"/><text class="l" x="-1" y="-0.6">0.04</text><text class="n" x="7" y="2">Eri_Eri3434345g00001</text></g>
<g id="leaf-Ebr_Ebr1343155g00001" transform="translate(960,959.2)"><path class="mk" d="M0 0h5"/><text class="l" x="-1" y="-0.6">0.04</text><text class="n" x="7" y="2">Ebr_Ebr1343155g00001</text></g>
<g id="leaf-Eri_Eri17g00235" transform="translate(960,967.1)"><path class="mk" d="M0 0h5"/><text class="l" x="-1" y="-0.6">0.04</text><text class="n" x="7" y="2">Eri_Eri17g00235</text></g>
<g id="leaf-Frau_Frau8g00245" transform="translate(918,974.9)"><path class="mk" d="M0 0h5"/><text class="l" x="-1" y="-0.6">0.0356</text><text class="n" x="7" y="2">Frau_Frau8g00245</text></g>
<g id="leaf-Frau_Frau8g00247" transform="translate(972,982.8)"><path class="mk" d="M0 0h5"/><text class="l" x="-1" y="-0.6">0.0956</text><text class="n" x="7" y="2">Frau_Frau8g00247</text></g>
<g id="leaf-Eri_Eri17g00237" transform="translate(805,990.7)"><path class="mk" d="M0 0h5"/><text class="l" x="-1" y="-0.6">0.0322</text><text class="n" x="7" y="2">Eri_Eri17g00237</text></g>
<g id="leaf-Taer_Taer1g01600" transform="translate(780,998.6)"><path class="mk" d="M0 0h5"/><text class="l" x="-1" y="-0.6">0.0822</text><text class="n" x="7" y="2">Taer_Taer1g01600</text></g>
<g id="leaf-Desu_Desu1000000019g00744" transform="translate(772,1006.5)"><path class="mk" d="M0 0h5"/><text class="l" x="-1" y="-0.6">0.0722</text><text class="n" x="7" y="2">Desu_Desu1000000019g00744</text></g>
<g id="leaf-Smsa_Smsa02g00750" transform="translate(753,1014.3)"><path class="mk" d="M0 0h5"/><text class="l" x="-1" y="-0.6">0.0511</text><text class="n" x="7" y="2">Smsa_Smsa02g00750</text></g>
</g>
<g id="scale-bar">
<path class="b" d="M8 1022.5H53M8 1021V1024M53 1021V1024"/>
<text class="l" x="8" y="1029" style="text-anchor:start">0.05</text>
</g>
</svg>
